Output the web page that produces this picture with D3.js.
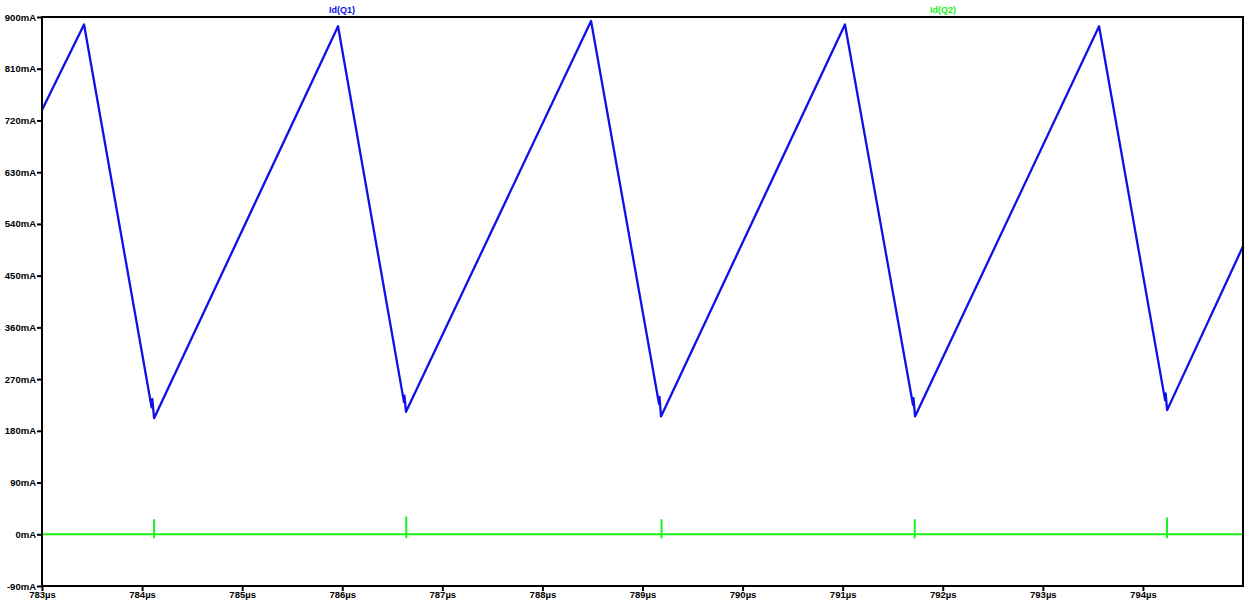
<!DOCTYPE html>
<html>
<head>
<meta charset="utf-8">
<script src="https://cdn.jsdelivr.net/npm/d3@7"></script>
<style>
  body { margin: 0; background: #fff; }
  svg { display: block; }
  text { font-family: "Liberation Sans", Arial, sans-serif; font-weight: bold; font-size: 9px; }
</style>
</head>
<body>
<script>
// time in µs, current in mA
const q1Time = [783.00, 783.42, 784.095, 784.102, 784.12, 785.958, 786.617, 786.622, 786.637,
  788.486, 789.165, 789.17, 789.185, 791.023, 791.703, 791.708, 791.723, 793.562, 794.222,
  794.227, 794.242, 795.0];
const q1Current = [738, 887, 221, 235, 202, 884, 230, 241, 213,
  893, 227, 239, 205, 887, 225, 237, 205, 884, 233,
  245, 216, 501];

const q2Time = [783.0, 784.12, 784.12, 784.12, 784.12, 786.64, 786.64, 786.64, 786.64,
  789.19, 789.19, 789.19, 789.19, 791.72, 791.72, 791.72, 791.72,
  794.24, 794.24, 794.24, 794.24, 795.0];
const q2Current = [0, 0, 26, -7, 0, 0, 31, -7, 0,
  0, 26, -7, 0, 0, 26, -7, 0,
  0, 29, -7, 0, 0];

const yTicks = [-90, 0, 90, 180, 270, 360, 450, 540, 630, 720, 810, 900];
const xTicks = [783, 784, 785, 786, 787, 788, 789, 790, 791, 792, 793, 794];
const seriesNames = ["Id(Q1)", "Id(Q2)"];

const width = 1245, height = 605;
const margin = {left: 42, right: 2, top: 17, bottom: 19};

const svg = d3.select("body").append("svg")
  .attr("width", width)
  .attr("height", height);

const x = d3.scaleLinear().domain([783, 795]).range([margin.left, width - margin.right]);
const y = d3.scaleLinear().domain([-90, 900]).range([height - margin.bottom, margin.top]);

const line = d3.line().x(d => x(d[0])).y(d => y(d[1]));

// green first, then blue
svg.append("path")
  .datum(d3.zip(q2Time, q2Current))
  .attr("d", line)
  .attr("fill", "none")
  .attr("stroke", "#1bf01b")
  .attr("stroke-width", 2);

svg.append("path")
  .datum(d3.zip(q1Time, q1Current))
  .attr("d", line)
  .attr("fill", "none")
  .attr("stroke", "#1010e8")
  .attr("stroke-width", 2.3)
  .attr("stroke-linejoin", "round");

// frame
svg.append("rect")
  .attr("x", margin.left)
  .attr("y", margin.top)
  .attr("width", width - margin.left - margin.right)
  .attr("height", height - margin.top - margin.bottom)
  .attr("fill", "none")
  .attr("stroke", "#000")
  .attr("stroke-width", 2);

const yAxis = svg.append("g")
  .attr("transform", `translate(${margin.left},0)`)
  .call(d3.axisLeft(y).tickValues(yTicks).tickSize(5).tickPadding(1).tickFormat(d => d + "mA"));
const xAxis = svg.append("g")
  .attr("transform", `translate(0,${height - margin.bottom})`)
  .call(d3.axisBottom(x).tickValues(xTicks).tickSize(5).tickPadding(0).tickFormat(d => d + "µs"));

[yAxis, xAxis].forEach(ax => {
  ax.select(".domain").remove();
  ax.selectAll(".tick line").attr("stroke", "#000").attr("stroke-width", 2);
  ax.selectAll(".tick text").attr("fill", "#000").style("font-size", "9.5px")
    .style("font-family", "'Liberation Sans', Arial, sans-serif").style("font-weight", "bold");
});

// legend labels
svg.append("text").attr("x", 342).attr("y", 13).attr("text-anchor", "middle")
  .attr("fill", "#1010e8").text(seriesNames[0]);
svg.append("text").attr("x", 943).attr("y", 13).attr("text-anchor", "middle")
  .attr("fill", "#1bf01b").text(seriesNames[1]);
</script>
</body>
</html>
